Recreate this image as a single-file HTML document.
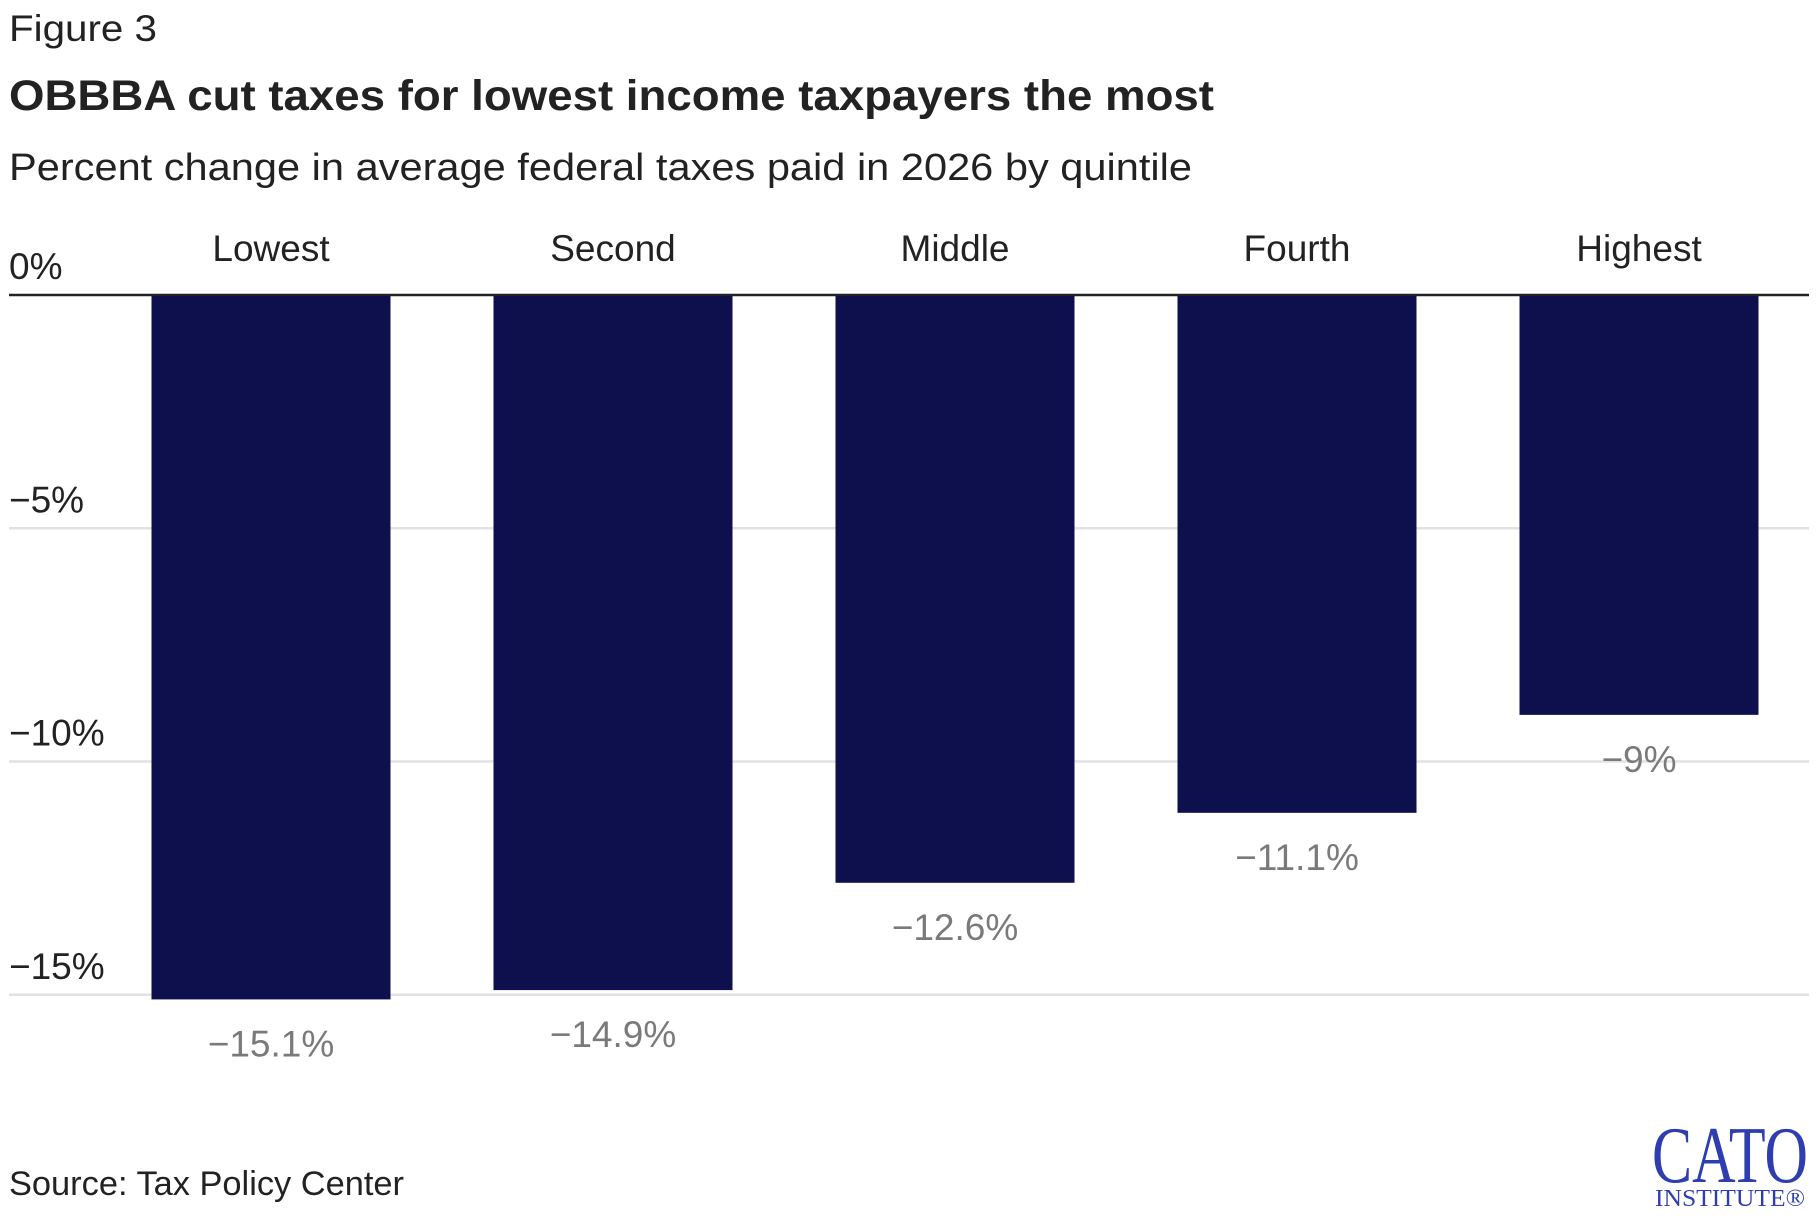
<!DOCTYPE html>
<html><head><meta charset="utf-8"><style>
html,body{margin:0;padding:0;background:#fff;}
svg{display:block;font-family:"Liberation Sans Narrow","Liberation Sans",sans-serif;}
</style></head><body>
<svg id="chart" width="1820" height="1220" viewBox="0 0 1820 1220" xmlns="http://www.w3.org/2000/svg">
<text x="9" y="41" font-size="37" fill="#222" textLength="148" lengthAdjust="spacingAndGlyphs">Figure 3</text>
<text x="9" y="110" font-size="43" font-weight="bold" fill="#222" textLength="1205" lengthAdjust="spacingAndGlyphs">OBBBA cut taxes for lowest income taxpayers the most</text>
<text x="9" y="180" font-size="38" fill="#222" textLength="1183" lengthAdjust="spacingAndGlyphs">Percent change in average federal taxes paid in 2026 by quintile</text>
<g id="grid"></g>
<g id="bars"></g>
<g id="labels"></g>
<text x="9" y="1195" font-size="34" fill="#222" textLength="395" lengthAdjust="spacingAndGlyphs">Source: Tax Policy Center</text>
<g>
<text x="1730" y="1182" text-anchor="middle" font-family="Liberation Serif,serif" font-size="80" fill="#2e3eb0" textLength="156" lengthAdjust="spacingAndGlyphs">CATO</text>
<text x="1730" y="1206" text-anchor="middle" font-family="Liberation Serif,serif" font-size="24" fill="#2e3eb0" textLength="150" lengthAdjust="spacingAndGlyphs">INSTITUTE®</text>
</g>
</svg>
<script>
const categories = ["Lowest","Second","Middle","Fourth","Highest"];
const values = [-15.1,-14.9,-12.6,-11.1,-9];
const valueLabels = ["\u221215.1%","\u221214.9%","\u221212.6%","\u221211.1%","\u22129%"];
const ticks = [0,-5,-10,-15];
const tickLabels = ["0%","\u22125%","\u221210%","\u221215%"];

const NS="http://www.w3.org/2000/svg";
const y0=295, pxPer=46.65;
function y(v){return y0 - v*pxPer;}
function xc(i){return 271 + i*342;}
const barW=239;
function mk(tag,attrs,parent,text){const e=document.createElementNS(NS,tag);for(const k in attrs)e.setAttribute(k,attrs[k]);if(text!=null)e.textContent=text;parent.appendChild(e);return e;}
const grid=document.getElementById('grid'),bars=document.getElementById('bars'),labels=document.getElementById('labels');
ticks.forEach((t,i)=>{
  const l=mk('line',{x1:9,x2:1809,y1:y(t),y2:y(t),stroke:t===0?'#222':'#e2e2e2','stroke-width':2.5},grid);
  
  
  const tx=mk('text',{x:9,y:y(t)-16,'font-size':37,fill:'#222'},grid,tickLabels[i]);
  
  
});
categories.forEach((c,i)=>{
  const r=mk('rect',{x:xc(i)-barW/2,y:y0+1,width:barW,height:y(values[i])-y0-1,fill:'#0e0f4d'},bars);
  
  
  const cl=mk('text',{x:xc(i),y:261,'font-size':37,fill:'#222','text-anchor':'middle'},labels,c);
  
  
  const vl=mk('text',{x:xc(i),y:y(values[i])+57,'font-size':37,fill:'#7a7a7a','text-anchor':'middle'},labels,valueLabels[i]);
  
  
});
</script>
</body></html>
